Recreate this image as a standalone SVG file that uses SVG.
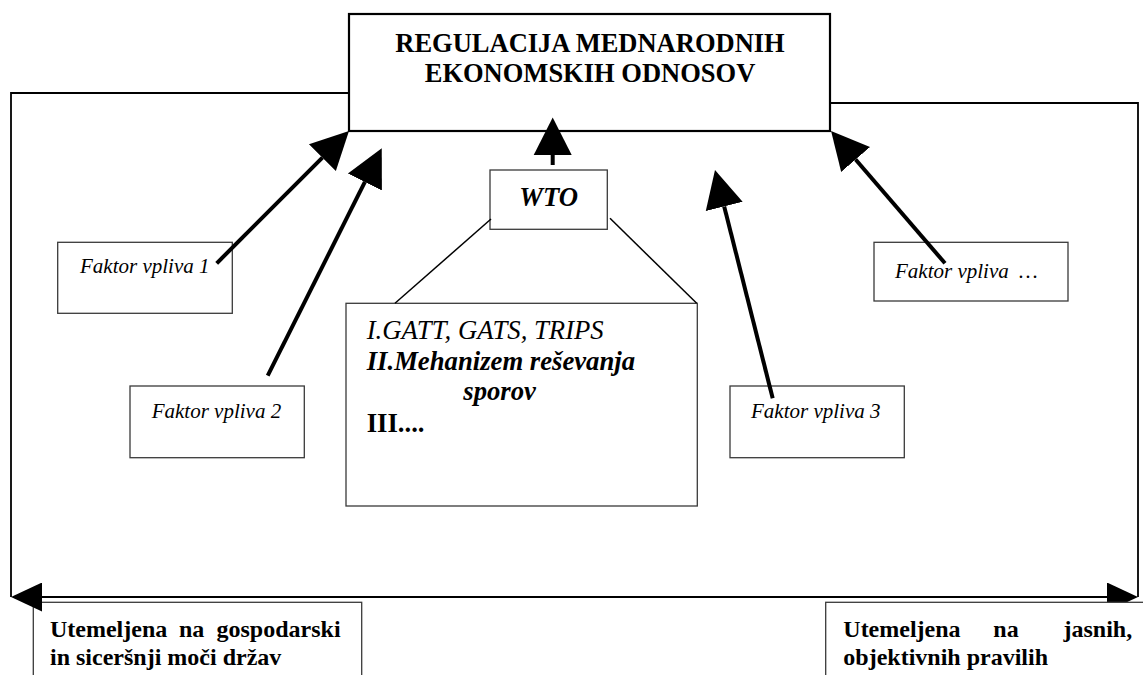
<svg xmlns="http://www.w3.org/2000/svg" width="1143" height="675" viewBox="0 0 1143 675">
<style>
.box{fill:#fff;stroke:#3a3a3a;stroke-width:1.3}
.main{fill:#fff;stroke:#000;stroke-width:2.2}
.frame{fill:none;stroke:#000;stroke-width:1.8}
.thin{fill:none;stroke:#000;stroke-width:1.5}
.shaft{fill:none;stroke:#000;stroke-width:4}
.t{font-family:"Liberation Serif","Times New Roman",serif;fill:#000}
.title{font-size:26.5px;font-weight:bold}
.fac{font-size:21px;font-style:italic}
.big{font-size:26.7px}
.bot{font-size:24px;font-weight:bold}
</style>
<defs>
<marker id="ah" markerUnits="userSpaceOnUse" markerWidth="38" markerHeight="40" viewBox="0 0 38 40" refX="0" refY="20" orient="auto"><path d="M0,1 L37.6,20 L0,39 z" fill="#000"/></marker>
<marker id="ahs" markerUnits="userSpaceOnUse" markerWidth="31" markerHeight="29" viewBox="0 0 31 29" refX="0" refY="14.5" orient="auto-start-reverse"><path d="M0,0 L31,14.5 L0,29 z" fill="#000"/></marker>
</defs>
<rect width="1143" height="675" fill="#fff"/>
<g id="main">
<rect class="main" x="349" y="14" width="481" height="117"/>
<text class="t title" x="590" y="51.7" text-anchor="middle">REGULACIJA MEDNARODNIH</text>
<text class="t title" x="590" y="82.3" text-anchor="middle">EKONOMSKIH ODNOSOV</text>
</g>
<g id="wto">
<rect class="box" x="490" y="170" width="117.3" height="59.3"/>
<text class="t big" x="548.7" y="206" text-anchor="middle" font-weight="bold" font-style="italic">WTO</text>
</g>
<g id="wto-content">
<rect class="box" x="346" y="303.3" width="351.3" height="202.7"/>
<text class="t big" x="366.7" y="339" font-style="italic">I.GATT, GATS, TRIPS</text>
<text class="t big" x="366.7" y="369.5" font-style="italic" font-weight="bold">II.Mehanizem reševanja</text>
<text class="t big" x="463.3" y="400" font-style="italic" font-weight="bold">sporov</text>
<text class="t big" x="366.7" y="431.5" font-weight="bold">III....</text>
</g>
<g id="faktor1">
<rect class="box" x="57.7" y="242.3" width="174.6" height="71"/>
<text class="t fac" x="80" y="273.3">Faktor vpliva 1</text>
</g>
<g id="faktor2">
<rect class="box" x="130" y="386" width="174.3" height="71.7"/>
<text class="t fac" x="151.7" y="417.7">Faktor vpliva 2</text>
</g>
<g id="faktor3">
<rect class="box" x="730" y="386" width="174.3" height="71.7"/>
<text class="t fac" x="751" y="417.7">Faktor vpliva 3</text>
</g>
<g id="faktorN">
<rect class="box" x="874" y="242.3" width="194" height="58.7"/>
<text class="t fac" x="895" y="278.3">Faktor vpliva<tspan x="1019">…</tspan></text>
</g>
<g id="basis-power">
<rect class="box" x="33.3" y="602.3" width="328.4" height="80"/>
<text class="t bot" y="636.7"><tspan x="50">Utemeljena</tspan><tspan x="179">na</tspan><tspan x="216.5">gospodarski</tspan></text>
<text class="t bot" x="50" y="664.5">in siceršnji moči držav</text>
</g>
<g id="connectors">
<polyline class="frame" points="349,93 11,93 11,597"/>
<polyline class="frame" points="830,103 1138,103 1138,597"/>
<path class="frame" d="M42,597 H1107" marker-start="url(#ahs)" marker-end="url(#ahs)"/>
<line class="thin" x1="491" y1="219" x2="395" y2="303.3"/>
<line class="thin" x1="610" y1="218.3" x2="696.7" y2="303.3"/>
<line class="shaft" x1="552.7" y1="165" x2="552.7" y2="155" marker-end="url(#ah)"/>
<line class="shaft" x1="216.7" y1="263.3" x2="322.4" y2="157.6" marker-end="url(#ah)"/>
<line class="shaft" x1="267.7" y1="375.7" x2="364.9" y2="181.9" marker-end="url(#ah)"/>
<line class="shaft" x1="772.7" y1="398.3" x2="724.2" y2="206.4" marker-end="url(#ah)"/>
<line class="shaft" x1="945" y1="263.3" x2="855.6" y2="159.5" marker-end="url(#ah)"/>
</g>
<g id="basis-rules">
<rect class="box" x="825.7" y="602.3" width="330" height="80"/>
<text class="t bot" y="636.7"><tspan x="843.3">Utemeljena</tspan><tspan x="993.3">na</tspan><tspan x="1063.5">jasnih,</tspan></text>
<text class="t bot" x="843.3" y="664.5">objektivnih pravilih</text>
</g>
</svg>
